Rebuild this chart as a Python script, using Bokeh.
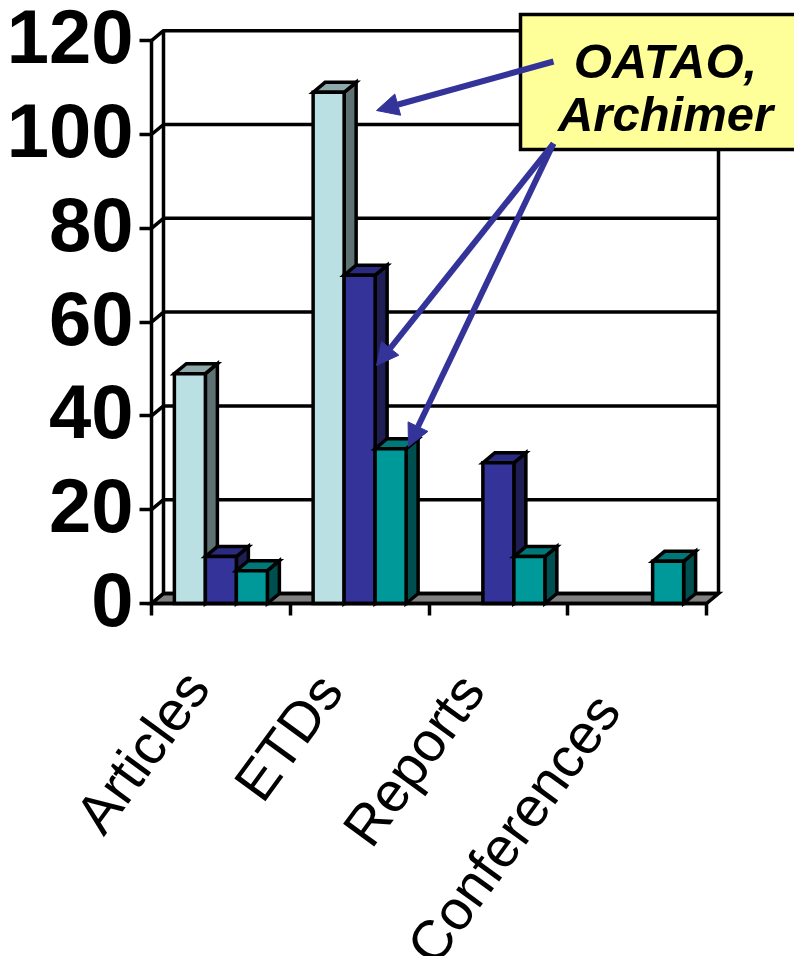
from bokeh.plotting import figure
from bokeh.models import Range1d, LinearAxis, FixedTicker, Arrow, NormalHead, Label
from bokeh.embed import file_html
from bokeh.resources import INLINE

categories = ["Articles", "ETDs", "Reports", "Conferences"]
series_a = [49, 109, 0, 0]
series_b = [10, 70, 30, 0]
series_c = [7, 33, 10, 9]
y_ticks = [0, 20, 40, 60, 80, 100, 120]
callout_lines = ["OATAO,", "Archimer"]

W, H = 794, 956
ORIGIN_X, ORIGIN_Y = 151, 603      # where value 0 / category 0 sit on the page
PX_X, PX_Y = 138.75, 4.69          # pixels per category / per unit
DX, DY = 12 / PX_X, 10 / PX_Y      # 3D depth offset
BW = 31 / PX_X
N = len(categories)
INK = "#000000"
LW = 3.5


def X(sx):
    return (sx - ORIGIN_X) / PX_X


def Y(sy):
    return (ORIGIN_Y - sy) / PX_Y


p = figure(width=W, height=H, output_backend="svg", toolbar_location=None,
           x_range=Range1d(X(0), X(W)), y_range=Range1d(Y(H), Y(0)),
           x_axis_type=None, y_axis_type=None,
           min_border_left=0, min_border_right=0, min_border_top=0, min_border_bottom=0)
p.outline_line_color = None
p.grid.visible = False
p.background_fill_color = "#FFFFFF"

# floor
p.patch([0, DX, N + DX, N], [0, DY, DY, 0], fill_color="#808080", line_color=INK,
        line_width=LW, line_join="miter")

# walls and gridlines
for t in y_ticks:
    p.line([0, DX, N + DX], [t, t + DY, t + DY], line_color=INK, line_width=LW)
p.line([DX, DX], [DY, y_ticks[-1] + DY], line_color=INK, line_width=LW)
p.line([N + DX, N + DX], [DY, y_ticks[-1] + DY], line_color=INK, line_width=LW)

styles = [("#BAE0E3", "#8FA8AA", "#5F7273"),
          ("#333399", "#2A2A80", "#1E1E55"),
          ("#009999", "#007878", "#004F50")]

for ci in range(N):
    for si, vals in enumerate([series_a, series_b, series_c]):
        v = vals[ci]
        if not v:
            continue
        x0 = ci + 0.5 + (si - 1.5) * BW
        x1 = x0 + BW
        front, top, side = styles[si]
        p.patch([x1, x1 + DX, x1 + DX, x1], [0, DY, v + DY, v], fill_color=side,
                line_color=INK, line_width=LW, line_join="miter")
        p.patch([x0, x0 + DX, x1 + DX, x1], [v, v + DY, v + DY, v], fill_color=top,
                line_color=INK, line_width=LW, line_join="miter")
        p.vbar(x=[(x0 + x1) / 2], width=BW, bottom=0, top=[v], fill_color=front,
               line_color=INK, line_width=LW, line_join="miter")

# callout box
p.quad(left=[X(520)], right=[X(810)], top=[Y(14)], bottom=[Y(149)], fill_color="#FFFF99",
       line_color=INK, line_width=LW, line_join="miter")

# arrows
for start, end in [((553, 61), (376, 110)), ((553, 143), (376, 365)), ((553, 143), (408, 446))]:
    p.add_layout(Arrow(end=NormalHead(size=22, fill_color="#333399", line_color="#333399", line_width=1),
                       x_start=X(start[0]), y_start=Y(start[1]), x_end=X(end[0]), y_end=Y(end[1]),
                       line_color="#333399", line_width=6))

for line, sy in zip(callout_lines, [60, 113]):
    p.add_layout(Label(x=X(665), y=Y(sy), text=line, text_font="Liberation Sans",
                       text_font_size="49px", text_font_style="bold italic", text_color=INK,
                       text_align="center", text_baseline="middle"))

# axes (ticks and lines; texts are placed just below)
yax = LinearAxis(ticker=FixedTicker(ticks=[], minor_ticks=y_ticks), bounds=(0, y_ticks[-1]), fixed_location=0)
yax.axis_line_color = INK
yax.axis_line_width = LW
yax.minor_tick_line_color = INK
yax.minor_tick_line_width = LW
yax.minor_tick_in = 0
yax.minor_tick_out = 12
p.add_layout(yax, "left")

xax = LinearAxis(ticker=FixedTicker(ticks=[], minor_ticks=list(range(N + 1))), bounds=(0, N), fixed_location=0)
xax.axis_line_color = INK
xax.axis_line_width = LW
xax.minor_tick_line_color = INK
xax.minor_tick_line_width = LW
xax.minor_tick_in = 0
xax.minor_tick_out = 12
p.add_layout(xax, "below")

# value labels
for t in y_ticks:
    p.add_layout(Label(x=0, y=t, x_offset=-18, y_offset=4, text=str(t), text_font="Liberation Sans",
                       text_font_size="76px", text_font_style="bold", text_color=INK,
                       text_align="right", text_baseline="middle"))

# rotated category labels, right end of each text near its category
label_shift = [(-24.5, 677), (-30, 680), (-27, 680), (-30, 700)]
for i, (name, (dx, sy)) in enumerate(zip(categories, label_shift)):
    p.add_layout(Label(x=i + 0.5 + dx / PX_X, y=Y(sy), text=name, angle=0.94,
                       text_font="Liberation Sans", text_font_size="56px", text_color=INK,
                       text_align="right", text_baseline="middle"))

open("out.html", "w").write(file_html(p, INLINE))
